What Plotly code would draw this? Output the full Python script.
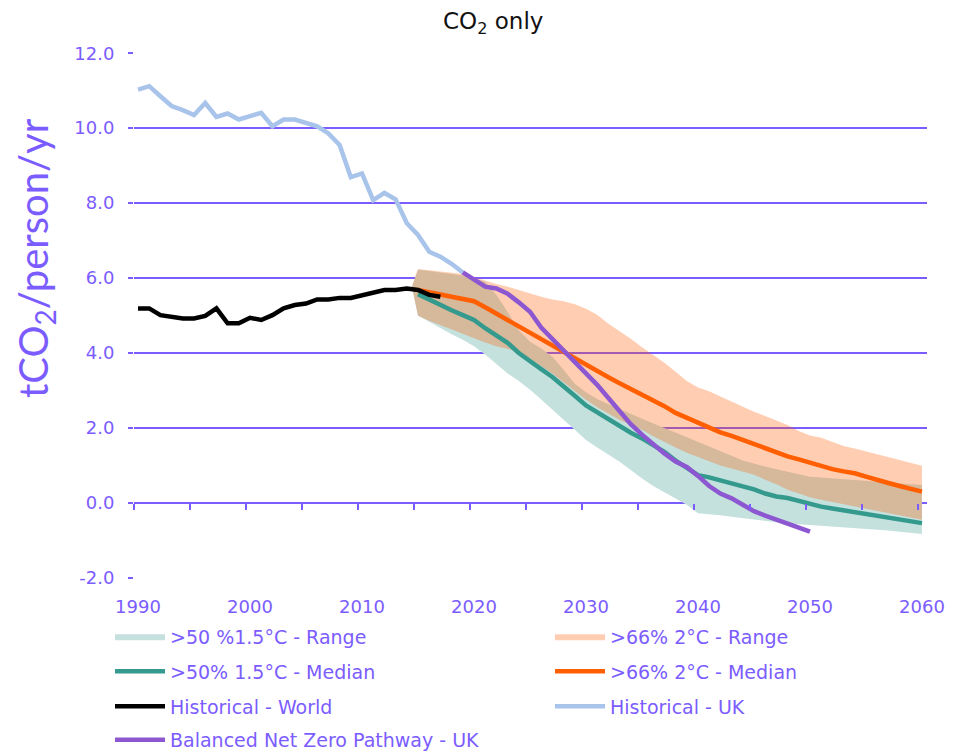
import plotly.graph_objects as go

# ---------------- data ----------------
years_hist = list(range(1990, 2018))
world_hist = [5.19, 5.19, 5.01, 4.97, 4.92, 4.92, 4.99, 5.19, 4.79, 4.79,
              4.94, 4.88, 5.01, 5.19, 5.28, 5.32, 5.43, 5.43, 5.47, 5.47,
              5.55, 5.63, 5.68, 5.68, 5.72, 5.68, 5.55, 5.50]

years_uk = list(range(1990, 2020))
uk_hist = [11.03, 11.12, 10.85, 10.59, 10.48, 10.35, 10.67, 10.30, 10.39, 10.23,
           10.32, 10.41, 10.05, 10.23, 10.23, 10.14, 10.05, 9.86, 9.55, 8.69,
           8.79, 8.08, 8.27, 8.10, 7.46, 7.15, 6.70, 6.57, 6.38, 6.15]

years_bnz = list(range(2019, 2051))
bnz_uk = [6.15, 5.95, 5.77, 5.72, 5.58, 5.35, 5.10, 4.68, 4.38, 4.08,
          3.78, 3.48, 3.15, 2.80, 2.45, 2.10, 1.82, 1.55, 1.32, 1.10,
          0.96, 0.72, 0.45, 0.25, 0.12, -0.05, -0.22, -0.34, -0.45, -0.53,
          -0.65, -0.77]

years_med = list(range(2015, 2061))
median_15 = [5.57, 5.42, 5.28, 5.14, 5.01, 4.88, 4.66, 4.48, 4.27, 4.00,
             3.80, 3.57, 3.36, 3.12, 2.86, 2.60, 2.41, 2.22, 2.03, 1.87,
             1.72, 1.55, 1.36, 1.13, 0.92, 0.74, 0.68, 0.60, 0.50, 0.45,
             0.36, 0.25, 0.17, 0.13, 0.05, -0.05, -0.10, -0.15, -0.20, -0.26,
             -0.30, -0.35, -0.40, -0.44, -0.49, -0.54]
median_2 = [5.68, 5.62, 5.57, 5.50, 5.43, 5.38, 5.22, 5.05, 4.88, 4.71,
            4.52, 4.35, 4.18, 4.03, 3.86, 3.66, 3.50, 3.35, 3.19, 3.04,
            2.90, 2.75, 2.58, 2.40, 2.27, 2.12, 2.00, 1.88, 1.79, 1.68,
            1.57, 1.43, 1.33, 1.24, 1.16, 1.07, 0.98, 0.90, 0.84, 0.79,
            0.70, 0.60, 0.53, 0.45, 0.38, 0.30]

years_band = [2014.45] + list(range(2015, 2061))
range15_upper = [5.77,
                 6.22, 6.19, 6.15, 6.11, 6.07, 6.00, 5.90, 5.55, 5.10, 4.60,
                 4.30, 4.12, 3.90, 3.55, 3.18, 2.95, 2.77, 2.63, 2.50, 2.36,
                 2.25, 2.12, 2.00, 1.88, 1.75, 1.62, 1.50, 1.38, 1.26, 1.13,
                 1.04, 0.97, 0.90, 0.84, 0.77, 0.70, 0.68, 0.66, 0.64, 0.62,
                 0.59, 0.57, 0.55, 0.53, 0.50, 0.48]
range15_lower = [5.77,
                 4.99, 4.83, 4.66, 4.50, 4.35, 4.18, 3.96, 3.70, 3.45, 3.25,
                 3.02, 2.76, 2.50, 2.22, 1.95, 1.68, 1.48, 1.30, 1.10, 0.88,
                 0.65, 0.45, 0.28, 0.12, -0.05, -0.28, -0.30, -0.33, -0.37, -0.41,
                 -0.44, -0.48, -0.52, -0.55, -0.57, -0.59, -0.60, -0.62, -0.64, -0.67,
                 -0.70, -0.72, -0.74, -0.77, -0.80, -0.83]
range2_upper = [5.77,
                6.24, 6.21, 6.18, 6.15, 6.11, 6.02, 5.92, 5.84, 5.77, 5.68,
                5.58, 5.50, 5.43, 5.38, 5.30, 5.18, 5.02, 4.78, 4.58, 4.38,
                4.15, 3.94, 3.74, 3.50, 3.25, 3.08, 2.98, 2.84, 2.70, 2.56,
                2.43, 2.32, 2.20, 2.08, 1.92, 1.80, 1.74, 1.62, 1.52, 1.45,
                1.37, 1.30, 1.22, 1.13, 1.05, 0.99]
range2_lower = [5.77,
                4.99, 4.86, 4.74, 4.62, 4.50, 4.38, 4.28, 4.18, 4.10, 4.04,
                3.85, 3.65, 3.45, 3.22, 2.98, 2.75, 2.55, 2.38, 2.22, 2.08,
                1.95, 1.78, 1.62, 1.48, 1.34, 1.22, 1.10, 1.00, 0.92, 0.84,
                0.75, 0.62, 0.50, 0.35, 0.25, 0.15, 0.08, 0.02, -0.04, -0.10,
                -0.16, -0.22, -0.28, -0.34, -0.40, -0.45]

x_tick_labels = [1990, 2000, 2010, 2020, 2030, 2040, 2050, 2060]
y_tick_values = [-2, 0, 2, 4, 6, 8, 10, 12]
y_tick_labels = ["-2.0", "0.0", "2.0", "4.0", "6.0", "8.0", "10.0", "12.0"]

# ---------------- style ----------------
PURPLE = "#7B5CFF"
FONT = "DejaVu Sans"
X_RANGE = [1989.64, 2060.45]
Y_RANGE = [-2.005, 12.005]

# the page body adds an 8px offset, so the figure is 8px smaller
OFF = 8
W, H = 960 - OFF, 751 - OFF
L, R, T, B = 134 - OFF, 33, 53 - OFF, 173
pw, ph = W - L - R, H - T - B


def px_x(p):
    """screen x pixel -> paper fraction"""
    return (p - OFF - L) / pw


def px_y(p):
    """screen y pixel -> paper fraction"""
    return (H - B - (p - OFF)) / ph


def legend_cell(xpix, ypix):
    return dict(orientation="h", x=px_x(xpix), xanchor="left", y=px_y(ypix),
                yanchor="middle", font=dict(family=FONT, size=19, color=PURPLE),
                itemwidth=50, bgcolor="rgba(0,0,0,0)", traceorder="normal")


fig = go.Figure()

fig.add_trace(go.Scatter(x=years_band, y=range15_lower, mode="lines",
                         line=dict(width=0), showlegend=False, hoverinfo="skip",
                         legend="legend"))
fig.add_trace(go.Scatter(x=years_band, y=range15_upper, mode="lines",
                         line=dict(width=0), fill="tonexty", fillcolor="#C5E1DE",
                         name=">50 %1.5°C - Range", legend="legend"))
fig.add_trace(go.Scatter(x=years_band, y=range2_lower, mode="lines",
                         line=dict(width=0), showlegend=False, hoverinfo="skip",
                         legend="legend2"))
fig.add_trace(go.Scatter(x=years_band, y=range2_upper, mode="lines",
                         line=dict(width=0), fill="tonexty",
                         fillcolor="rgba(255,88,0,0.30)",
                         name=">66% 2°C - Range", legend="legend2"))

fig.add_trace(go.Scatter(x=years_med, y=median_15, mode="lines",
                         line=dict(color="#349A8E", width=4.5),
                         name=">50% 1.5°C - Median", legend="legend3"))
fig.add_trace(go.Scatter(x=years_med, y=median_2, mode="lines",
                         line=dict(color="#FF5F00", width=4.5),
                         name=">66% 2°C - Median", legend="legend4"))
fig.add_trace(go.Scatter(x=years_hist, y=world_hist, mode="lines",
                         line=dict(color="#000000", width=4.5),
                         name="Historical - World", legend="legend5"))
fig.add_trace(go.Scatter(x=years_uk, y=uk_hist, mode="lines",
                         line=dict(color="#A9C4EA", width=4.5),
                         name="Historical - UK", legend="legend6"))
fig.add_trace(go.Scatter(x=years_bnz, y=bnz_uk, mode="lines",
                         line=dict(color="#8C57D0", width=4.5),
                         name="Balanced Net Zero Pathway - UK", legend="legend7"))
# empty trace so the tick-only axis along y=0 exists
fig.add_trace(go.Scatter(x=[], y=[], xaxis="x2", yaxis="y", showlegend=False,
                         hoverinfo="skip"))

COL1, COL2 = 110, 550
ROWS = [636.5, 671.5, 706.5, 740]

fig.update_layout(
    width=W, height=H,
    margin=dict(l=L, r=R, t=T, b=B, autoexpand=False),
    paper_bgcolor="white", plot_bgcolor="white",
    font=dict(family=FONT, color=PURPLE),
    showlegend=True,
    legend=legend_cell(COL1, ROWS[0]),
    legend2=legend_cell(COL2, ROWS[0]),
    legend3=legend_cell(COL1, ROWS[1]),
    legend4=legend_cell(COL2, ROWS[1]),
    legend5=legend_cell(COL1, ROWS[2]),
    legend6=legend_cell(COL2, ROWS[2]),
    legend7=legend_cell(COL1, ROWS[3]),
    xaxis=dict(range=X_RANGE, tickmode="array", tickvals=x_tick_labels,
               ticktext=[str(v) for v in x_tick_labels], ticks="",
               showgrid=False, zeroline=False, showline=False,
               tickfont=dict(family=FONT, size=18, color=PURPLE),
               ticklabelstandoff=16),
    xaxis2=dict(range=X_RANGE, overlaying="x", anchor="free",
                position=(0 - Y_RANGE[0]) / (Y_RANGE[1] - Y_RANGE[0]),
                side="bottom", tickmode="array",
                tickvals=[X_RANGE[0] + 5 * k for k in range(15)],
                ticks="outside", ticklen=6, tickwidth=2, tickcolor=PURPLE,
                showticklabels=False, showgrid=False, zeroline=False,
                showline=False),
    yaxis=dict(range=Y_RANGE, tickmode="array", tickvals=y_tick_values,
               ticktext=y_tick_labels, ticks="outside", ticklen=5, tickwidth=1.5,
               tickcolor=PURPLE, showgrid=True, gridcolor=PURPLE, gridwidth=1.8,
               zeroline=False, showline=False,
               tickfont=dict(family=FONT, size=18, color=PURPLE),
               ticklabelstandoff=10),
    annotations=[
        dict(text="CO<sub>2</sub> only", xref="paper", yref="paper",
             x=px_x(493), y=px_y(23), xanchor="center", yanchor="middle",
             showarrow=False, font=dict(family=FONT, size=23, color="#111111")),
        dict(text="tCO<sub>2</sub>/person/yr", xref="paper", yref="paper",
             x=px_x(36), y=px_y(258), xanchor="center", yanchor="middle",
             textangle=-90, showarrow=False,
             font=dict(family="Lato", size=40, color=PURPLE)),
    ],
)

fig.write_html("out.html")
